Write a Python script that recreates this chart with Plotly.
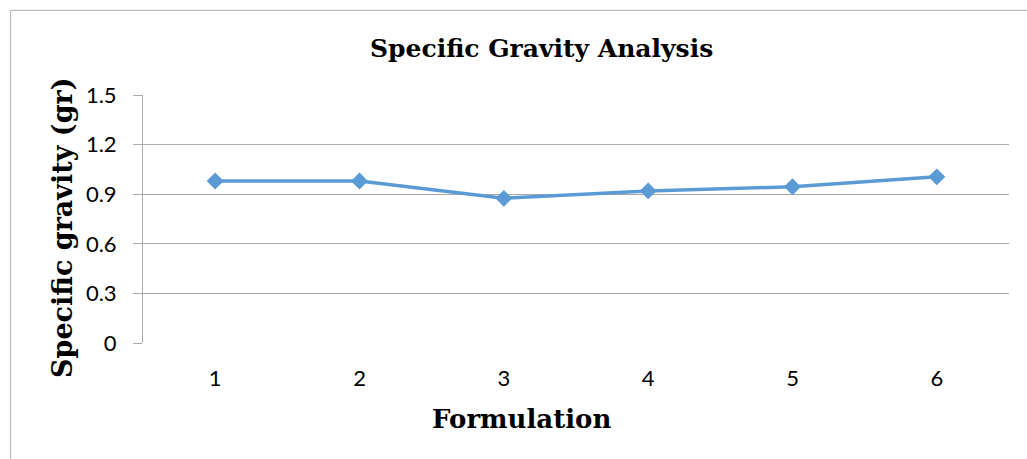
import plotly.graph_objects as go

formulations = [1, 2, 3, 4, 5, 6]
specific_gravity = [0.98, 0.98, 0.875, 0.92, 0.945, 1.005]
y_ticks = [0, 0.3, 0.6, 0.9, 1.2, 1.5]
y_tick_labels = ["0", "0.3", "0.6", "0.9", "1.2", "1.5"]

W, H = 1027, 459
L, R, T, B = 143, 18, 94.5, 115.5
pw, ph = W - L - R, H - T - B

def px(x):
    return (x - L) / pw

def py(y):
    return (H - B - y) / ph

serif = "DejaVu Serif"
sans = "Lato"

fig = go.Figure()
fig.add_trace(go.Scatter(
    x=formulations, y=specific_gravity, mode="lines+markers",
    line=dict(color="#5B9BD5", width=3.5),
    marker=dict(symbol="diamond", size=13, color="#5B9BD5"),
    showlegend=False, hoverinfo="x+y",
))

fig.update_layout(
    width=W, height=H,
    margin=dict(l=L, r=R, t=T, b=B),
    paper_bgcolor="white", plot_bgcolor="white",
    xaxis=dict(
        range=[0.5, 6.5], tickvals=formulations, ticktext=[str(v) for v in formulations],
        showgrid=False, zeroline=False, showline=False, ticks="",
        tickfont=dict(family=sans, size=22, color="#000000"),
        ticklabelstandoff=20,
    ),
    yaxis=dict(
        range=[0, 1.5], tickvals=y_ticks, ticktext=y_tick_labels,
        showgrid=True, gridcolor="#AAAAAA", gridwidth=1,
        zeroline=False, showline=True, linecolor="#AAAAAA", linewidth=1,
        ticks="outside", ticklen=9, tickcolor="#AAAAAA",
        tickfont=dict(family=sans, size=22, color="#000000"),
        ticklabelstandoff=12,
    ),
    shapes=[
        dict(type="line", xref="paper", yref="paper",
             x0=px(10.5), x1=px(W + 5), y0=py(9.5), y1=py(9.5),
             line=dict(color="#BBBBBB", width=1.2)),
        dict(type="line", xref="paper", yref="paper",
             x0=px(10.5), x1=px(10.5), y0=py(9.5), y1=py(H + 5),
             line=dict(color="#BBBBBB", width=1.2)),
    ],
    annotations=[
        dict(text="<b>Specific Gravity Analysis</b>", xref="paper", yref="paper",
             x=px(541), y=py(48), xanchor="center", yanchor="middle", showarrow=False,
             font=dict(family=serif, size=25, color="#000000")),
        dict(text="<b>Specific gravity (gr)</b>", xref="paper", yref="paper",
             x=px(63), y=py(228), xanchor="center", yanchor="middle", showarrow=False,
             textangle=-90, font=dict(family=serif, size=27, color="#000000")),
        dict(text="<b>Formulation</b>", xref="paper", yref="paper",
             x=px(521), y=py(420), xanchor="center", yanchor="middle", showarrow=False,
             font=dict(family=serif, size=26, color="#000000")),
    ],
)

fig.write_html("out.html")
